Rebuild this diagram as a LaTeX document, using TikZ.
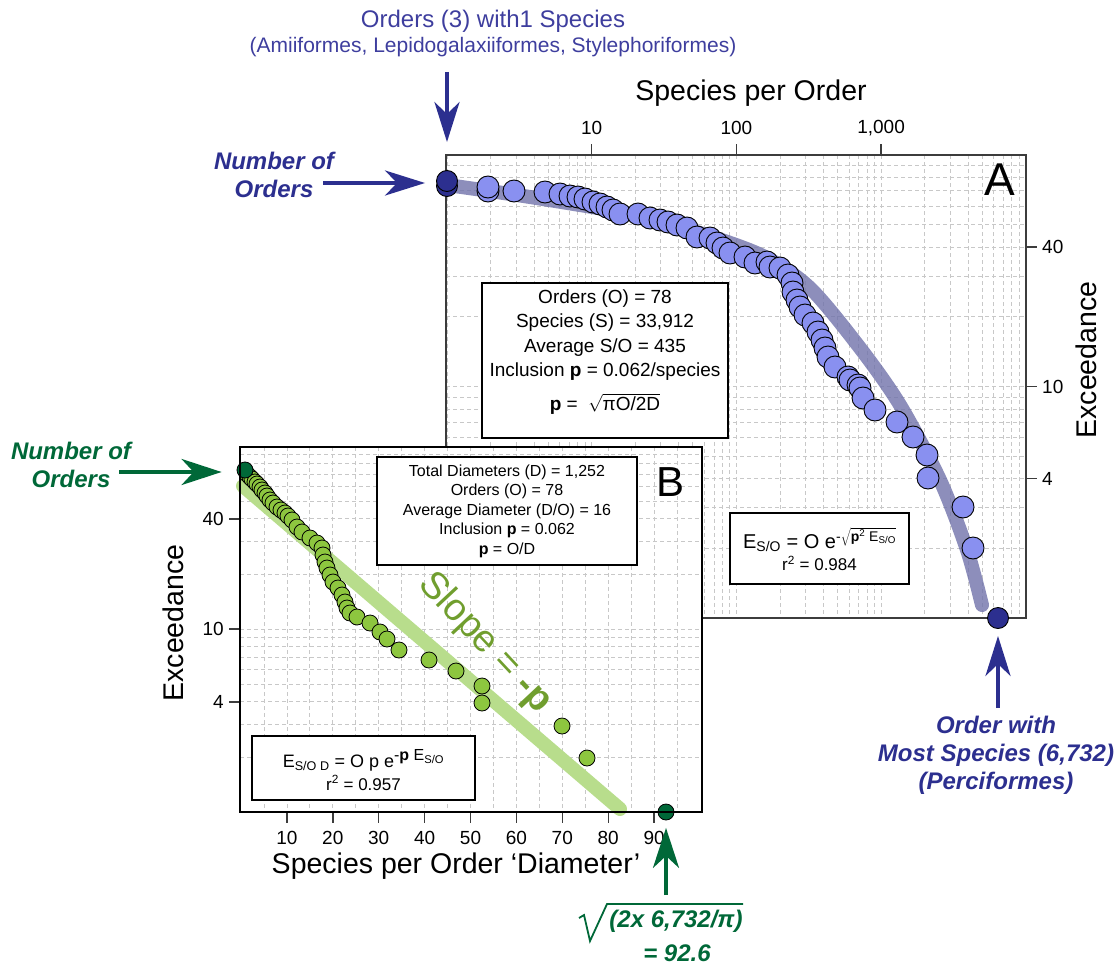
\documentclass[tikz,border=0pt]{standalone}
\usepackage{fontspec}
\setmainfont{Liberation Sans}
\usetikzlibrary{arrows.meta}
\newcommand{\fsz}[2]{\fontsize{#1}{#2}\selectfont}
\definecolor{ordnavy}{RGB}{44,47,143}
\definecolor{hdrblue}{RGB}{62,62,158}
\definecolor{dotblue}{RGB}{137,144,240}
\definecolor{fitblue}{RGB}{112,114,170}
\definecolor{ordgreen}{RGB}{0,104,56}
\definecolor{dotgreen}{RGB}{141,198,63}
\definecolor{fitgreen}{RGB}{184,221,140}
\definecolor{slopegreen}{RGB}{112,158,46}
\definecolor{gridgray}{RGB}{200,200,200}
\definecolor{framegray}{RGB}{60,60,60}
\begin{document}
\begin{tikzpicture}[x=1pt,y=-1pt,
  every node/.style={inner sep=0pt},
  gridline/.style={draw=gridgray, line width=0.8pt, dash pattern=on 4pt off 3pt},
  frame/.style={draw=framegray, line width=1.4pt},
  bluedot/.style={draw=black, line width=0.9pt, fill=dotblue},
  greendot/.style={draw=black, line width=0.8pt, fill=dotgreen},
  navydot/.style={circle, draw=black, line width=0.9pt, fill=ordnavy, minimum size=21pt},
  darkgreendot/.style={circle, draw=black, line width=0.8pt, fill=ordgreen, minimum size=16pt},
  infobox/.style={draw=black, line width=1.2pt, fill=white},
  ticklab/.style={font=\fsz{19}{19}},
  axistitle/.style={font=\fsz{28.5}{28.5}},
  navyarrow/.style={draw=ordnavy, line width=4pt, -{Stealth[length=40pt,width=25pt,inset=12pt]}},
  greenarrow/.style={draw=ordgreen, line width=4pt, -{Stealth[length=40pt,width=26pt,inset=12pt]}},
  ordlab/.style={font=\fsz{24}{28}\bfseries\itshape, align=center}]
\useasboundingbox (0,0) rectangle (1119,966);

\foreach \d in {0,...,3}
  \foreach \m in {1,...,9}{
    \pgfmathsetmacro{\gx}{447+144.7*(\d+log10(\m))}
    \draw[gridline] (\gx,155) -- (\gx,618);
  }
\foreach \d in {0,1}
  \foreach \m in {1,...,9}{
    \pgfmathsetmacro{\gy}{618-231.5*(\d+log10(\m))}
    \draw[gridline] (446,\gy) -- (1026,\gy);
  }
\draw[frame] (446,155) rectangle (1026,618);
\foreach \v/\lab in {1/10,2/100,3/{1,000}}{
  \pgfmathsetmacro{\tx}{447+144.7*\v}
  \draw[frame] (\tx,144) -- (\tx,155);
  \node[ticklab] (topA\v) at (\tx,128) {\lab};
}
\foreach \v in {40,10,4}{
  \pgfmathsetmacro{\ty}{618-231.5*log10(\v)}
  \draw[frame] (1026,\ty) -- (1037,\ty);
  \node[ticklab, anchor=west] (rightA\v) at (1042,\ty) {\v};
}
\node[axistitle] (xtitleA) at (751,93) {Species per Order};
\node[axistitle, rotate=90] (ytitleA) at (1086,360) {Exceedance};

\draw[fitblue, opacity=0.8, line width=14pt, line cap=round] plot[smooth] coordinates {(447,185) (530,197) (630,214) (700,233) (763,256) (810,288) (860,348) (900,405) (940,480) (967,550) (982,605)};

\draw[bluedot] (488,191) circle (11pt);
\foreach \px/\py in {488/187,514/191,545/192,560/194,570/196,578/197,585/199,593/202,600/204,607/207,613/210,620/214,638/214,650/218,660/220,668/222,677/225,687/228,697/237,710/238,717/243,723/248,730/253,745/257,755/263,767/262,770/267,780/268,788/275,792/283,793/292,797/300,800/307,805/315,813/323,818/332,822/340,825/348,828/357,835/367,848/377,850/380,858/385,860/388,863/398,875/410,897/422,913/437,927/455,928/478,963/507,973/548}
  \draw[bluedot] (\px,\py) circle (11pt);
\draw[bluedot, fill=ordnavy] (447,186) circle (10.5pt);
\node[navydot] (firstA) at (447,181) {};
\node[navydot] (lastA) at (998,618) {};

\node[infobox, minimum width=246pt, minimum height=155pt] (statsA) at (605,360.5) {};
\node[font=\fsz{19}{24.5}, align=center] (statsAtxt) at (605,352) {Orders (O) = 78\\Species (S) = 33,912\\Average S/O = 435\\Inclusion \textbf{p} = 0.062/species\\[9pt]\textbf{p} = \ $\sqrt{\mbox{\fsz{19}{19}πO/2D}}$};
\node[infobox, minimum width=179pt, minimum height=71pt] (fitboxA) at (819.5,548.5) {};
\node[align=center] (fitAtxt) at (819.5,549) {\fsz{20}{20}E\textsubscript{S/O} = O e\raisebox{7pt}{\fsz{14}{14}-$\sqrt{\mbox{\textbf{p}\textsuperscript{2} E\textsubscript{S/O}}}$}\\[3pt]\fsz{17}{17}r\textsuperscript{2} = 0.984};
\node[font=\fsz{46}{46}] (labA) at (1000,180) {A};

\fill[white] (240,447) rectangle (702,812);
\foreach \k in {5,10,...,95}{
  \pgfmathsetmacro{\gx}{241+4.59*\k}
  \draw[gridline] (\gx,447) -- (\gx,812);
}
\foreach \d in {0,1}
  \foreach \m in {1,...,9}{
    \pgfmathsetmacro{\gy}{812-183*(\d+log10(\m))}
    \draw[gridline] (240,\gy) -- (702,\gy);
  }
\foreach \v in {10,20,...,90}{
  \pgfmathsetmacro{\tx}{241+4.59*\v}
  \draw[frame] (\tx,812) -- (\tx,823);
  \node[ticklab] (botB\v) at (\tx,838) {\v};
}
\foreach \v in {40,10,4}{
  \pgfmathsetmacro{\ty}{812-183*log10(\v)}
  \draw[frame] (229,\ty) -- (240,\ty);
  \node[ticklab, anchor=east] (leftB\v) at (224,\ty) {\v};
}
\node[axistitle] (xtitleB) at (456,866) {Species per Order ‘Diameter’};
\node[axistitle, rotate=90] (ytitleB) at (173,623) {Exceedance};

\draw[fitgreen, line width=14pt, line cap=round] (243,486) -- (620,809);
\node[font=\fsz{38}{38}, text=slopegreen, rotate=-47] (slope) at (485,643) {Slope = \textbf{-p}};

\foreach \px/\py in {247/474,250/477,252/479,255/482,257/484,260/487,262/490,265/493,267/496,270/500,273/503,277/507,281/510,285/513,288/516,292/520,297/527,302/532,310/538,317/543,322/548,323/555,325/562,327/568,330/575,333/582,338/588,342/595,345/602,347/608,350/613,357/617,370/623,380/632,387/639,399/650,429/660,456/671,482/686,482/703,562/726,587/758}
  \draw[greendot] (\px,\py) circle (8pt);
\node[darkgreendot] (firstB) at (245,470) {};
\node[darkgreendot] (lastB) at (666,812) {};

\node[infobox, minimum width=260pt, minimum height=108pt] (statsB) at (507,511) {};
\node[font=\fsz{16}{19.5}, align=center] (statsBtxt) at (507,511) {Total Diameters (D) = 1,252\\Orders (O) = 78\\Average Diameter (D/O) = 16\\Inclusion \textbf{p} = 0.062\\\textbf{p} = O/D};
\node[infobox, minimum width=223pt, minimum height=64pt] (fitboxB) at (363.5,768) {};
\node[align=center] (fitBtxt) at (363.5,770) {\fsz{18}{18}E\textsubscript{S/O D} = O p e\raisebox{7pt}{\fsz{16}{16}-\textbf{p} E\textsubscript{S/O}}\\[3pt]\fsz{17}{17}r\textsuperscript{2} = 0.957};
\node[font=\fsz{42}{42}] (labB) at (670,482) {B};
\draw[frame, draw=black] (240,447) rectangle (702,812);

\node[font=\fsz{24}{24}, text=hdrblue] (hdr) at (493,21) {Orders (3) with1 Species};
\node[font=\fsz{21}{21}, text=hdrblue] (hdrsub) at (493,47) {(Amiiformes, Lepidogalaxiiformes, Stylephoriformes)};
\coordinate (hdrtail) at (447,72);
\draw[navyarrow, shorten >=28pt] (hdrtail) -- (firstA);

\node[ordlab, text=ordnavy] (ordA) at (274,175) {Number of\\Orders};
\coordinate (ordAtail) at (323,183);
\draw[navyarrow, shorten >=11pt] (ordAtail) -- (ordAtail -| firstA.west);

\node[ordlab, text=ordnavy] (mostA) at (996,755) {Order with\\Most Species (6,732)\\(Perciformes)};
\coordinate (mostAtail) at (998,708);
\draw[navyarrow, shorten >=7pt] (mostAtail) -- (lastA);

\node[ordlab, text=ordgreen] (ordB) at (71,465) {Number of\\Orders};
\coordinate (ordBtail) at (119,472);
\draw[greenarrow, shorten >=15pt] (ordBtail) -- (ordBtail -| firstB.west);

\draw[ordgreen, line width=1.8pt, line join=miter] (579,918) -- (584,915) -- (590,941) -- (607,904) -- (743,904);
\node[font=\fsz{24}{24}\bfseries\itshape, text=ordgreen] (diam) at (676,921) {(2x 6,732/π)};
\node[font=\fsz{24}{24}\bfseries\itshape, text=ordgreen] (diameq) at (677,953) {= 92.6};
\coordinate (diamtail) at (666,895);
\draw[greenarrow, shorten >=7.5pt] (diamtail) -- (lastB);
\end{tikzpicture}
\end{document}
